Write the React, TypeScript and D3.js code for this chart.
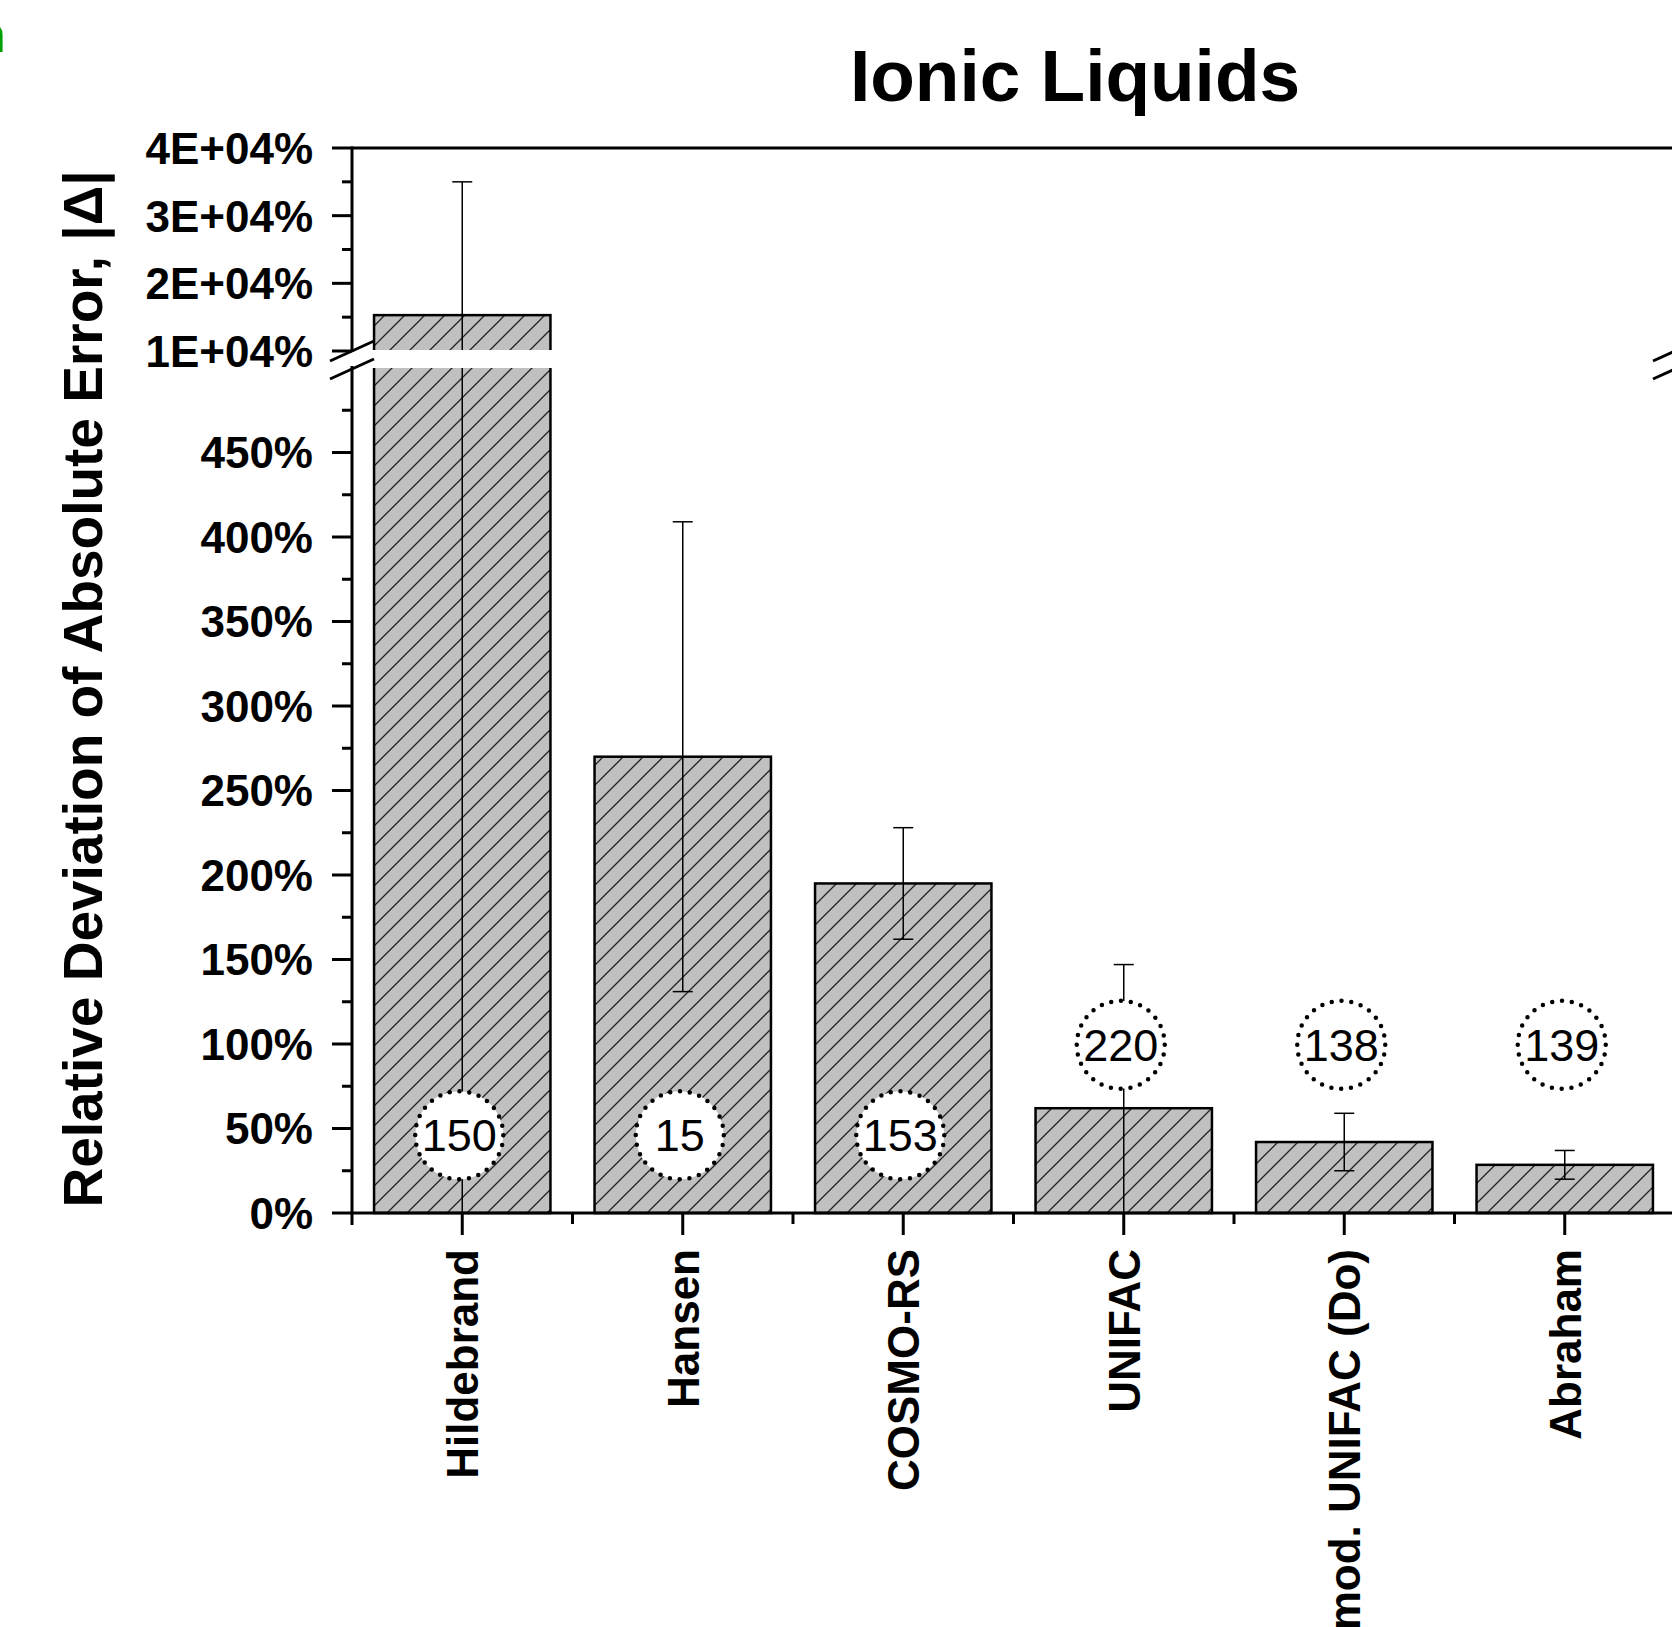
import React from "react";
import * as d3 from "d3";

const categories = ["Hildebrand", "Hansen", "COSMO-RS", "UNIFAC", "mod. UNIFAC (Do)", "Abraham"];
const means = [15300, 270, 195, 62, 42, 28.5];
const errors = [19700, 139, 33, 85, 17, 8.5];
const counts = ["150", "15", "153", "220", "138", "139"];
const countLevels = [46, 46, 46, 99.5, 99.5, 99.5];

const lowerTicks = [0, 50, 100, 150, 200, 250, 300, 350, 400, 450];
const lowerMinor = [25, 75, 125, 175, 225, 275, 325, 375, 425, 475];
const upperTicks = [10000, 20000, 30000, 40000];
const upperTickLabels = ["1E+04%", "2E+04%", "3E+04%", "4E+04%"];
const upperMinor = [15000, 25000, 35000];

const title = "Ionic Liquids";
const yTitle = "Relative Deviation of Absolute Error, |Δ|";

const W = 1672;
const H = 1627;
const FONT = "'Liberation Sans', Arial, Helvetica, sans-serif";

export default function App() {
  const x0 = 352;
  const x1 = 1675;
  const yTop = 148;
  const yBottom = 1213;
  const breakA = 352; // axis gap start
  const breakB = 366; // axis gap end

  const x = d3.scaleBand<string>().domain(categories).range([x0, x1]).paddingInner(0.2).paddingOuter(0.1);
  const step = x.step();
  const yLow = d3.scaleLinear().domain([0, 500]).range([yBottom, 368]);
  const yUp = d3.scaleLinear().domain([10000, 40000]).range([351, yTop]);
  const yPos = (v: number) => (v <= 500 ? yLow(Math.max(0, v)) : yUp(v));

  const boundaries = d3.range(categories.length + 1).map((i) => x0 + i * step);

  const slash = (cx: number, cy: number) => {
    const dx = 22;
    const dy = 10;
    return `M${cx - dx},${cy + dy}L${cx + dx},${cy - dy}`;
  };

  return (
    <svg
      width={W}
      height={H}
      style={{ position: "absolute", left: 0, top: 0, background: "#fff" }}
      fontFamily={FONT}
    >
      <defs>
        <pattern id="hatch" patternUnits="userSpaceOnUse" width={20} height={20}>
          <rect width={20} height={20} fill="#c0c0c0" />
          <path d="M-5,5L5,-5M0,20L20,0M15,25L25,15" stroke="#222" strokeWidth={1.3} />
        </pattern>
      </defs>
      <rect width={W} height={H} fill="#fff" />

      {/* green cut-off label */}
      <text x={-26} y={52} fontSize={52} fontWeight="bold" fill="#00a000">n</text>

      {/* title */}
      <text x={1075} y={101} fontSize={73} fontWeight="bold" textAnchor="middle">{title}</text>

      {/* bars */}
      {categories.map((c, i) => (
        <rect
          key={c}
          x={x(c)!}
          y={yPos(means[i])}
          width={x.bandwidth()}
          height={yBottom - yPos(means[i])}
          fill="url(#hatch)"
          stroke="#000"
          strokeWidth={2.5}
        />
      ))}

      {/* error bars */}
      {categories.map((c, i) => {
        const cx = x(c)! + x.bandwidth() / 2;
        const hi = means[i] + errors[i];
        const lo = means[i] - errors[i];
        const yHi = yPos(hi);
        const yLo = yPos(lo);
        return (
          <g key={c} stroke="#000" strokeWidth={1.5}>
            <line x1={cx} x2={cx} y1={yHi} y2={yLo} />
            <line x1={cx - 10} x2={cx + 10} y1={yHi} y2={yHi} />
            {lo > 0 && <line x1={cx - 10} x2={cx + 10} y1={yLo} y2={yLo} />}
          </g>
        );
      })}

      {/* white break gap across data */}
      <rect x={x0 + 2} y={350} width={x1 - x0 - 4} height={18} fill="#fff" />

      {/* count circles */}
      {categories.map((c, i) => {
        const cx = x(c)! + x.bandwidth() / 2 - 3;
        const cy = yLow(countLevels[i]);
        return (
          <g key={c}>
            <circle cx={cx} cy={cy} r={44} fill="#fff" />
            <circle
              cx={cx}
              cy={cy}
              r={44}
              fill="none"
              stroke="#000"
              strokeWidth={4.5}
              strokeLinecap="round"
              strokeDasharray="0 9.87"
            />
            <text x={cx} y={cy} dy="0.36em" fontSize={45} textAnchor="middle" fill="#000">
              {counts[i]}
            </text>
          </g>
        );
      })}

      {/* axes frame */}
      <g stroke="#000" strokeWidth={3} fill="none">
        <line x1={x0} x2={x0} y1={yTop - 1.5} y2={breakA} />
        <line x1={x0} x2={x0} y1={breakB} y2={yBottom + 12} />
        <line x1={x1} x2={x1} y1={yTop - 1.5} y2={breakA} />
        <line x1={x1} x2={x1} y1={breakB} y2={yBottom} />
        <line x1={x0} x2={x1} y1={yTop} y2={yTop} />
        <line x1={x0 - 1.5} x2={x1} y1={yBottom} y2={yBottom} />
        <path d={slash(x0, 351)} />
        <path d={slash(x0, 369)} />
        <path d={slash(x1, 351)} />
        <path d={slash(x1, 369)} />
      </g>

      {/* y ticks lower */}
      <g stroke="#000" strokeWidth={3}>
        {lowerTicks.map((t) => (
          <line key={t} x1={x0 - 20} x2={x0} y1={yLow(t)} y2={yLow(t)} />
        ))}
        {lowerMinor.map((t) => (
          <line key={t} x1={x0 - 10} x2={x0} y1={yLow(t)} y2={yLow(t)} />
        ))}
        {upperTicks.map((t) => (
          <line key={t} x1={x0 - 20} x2={x0} y1={yUp(t)} y2={yUp(t)} />
        ))}
        {upperMinor.map((t) => (
          <line key={t} x1={x0 - 10} x2={x0} y1={yUp(t)} y2={yUp(t)} />
        ))}
        {categories.map((c) => {
          const cx = x(c)! + x.bandwidth() / 2;
          return <line key={c} x1={cx} x2={cx} y1={yBottom} y2={yBottom + 22} />;
        })}
        {boundaries.slice(1).map((b, i) => (
          <line key={i} x1={b} x2={b} y1={yBottom} y2={yBottom + 11} />
        ))}
      </g>

      {/* y tick labels */}
      <g fontSize={44} fontWeight="bold" textAnchor="end" fill="#000">
        {lowerTicks.map((t) => (
          <text key={t} x={313} y={yLow(t)} dy="0.36em">{`${t}%`}</text>
        ))}
        {upperTicks.map((t, i) => (
          <text key={t} x={313} y={yUp(t)} dy="0.36em">{upperTickLabels[i]}</text>
        ))}
      </g>

      {/* x labels */}
      <g fontSize={44} fontWeight="bold" textAnchor="end" fill="#000">
        {categories.map((c) => {
          const cx = x(c)! + x.bandwidth() / 2;
          return (
            <text key={c} transform={`translate(${cx + 16},${1249}) rotate(-90)`}>{c}</text>
          );
        })}
      </g>

      {/* y title */}
      <text
        transform={`translate(102,689) rotate(-90)`}
        fontSize={55}
        fontWeight="bold"
        textAnchor="middle"
        fill="#000"
      >
        {yTitle}
      </text>
    </svg>
  );
}
